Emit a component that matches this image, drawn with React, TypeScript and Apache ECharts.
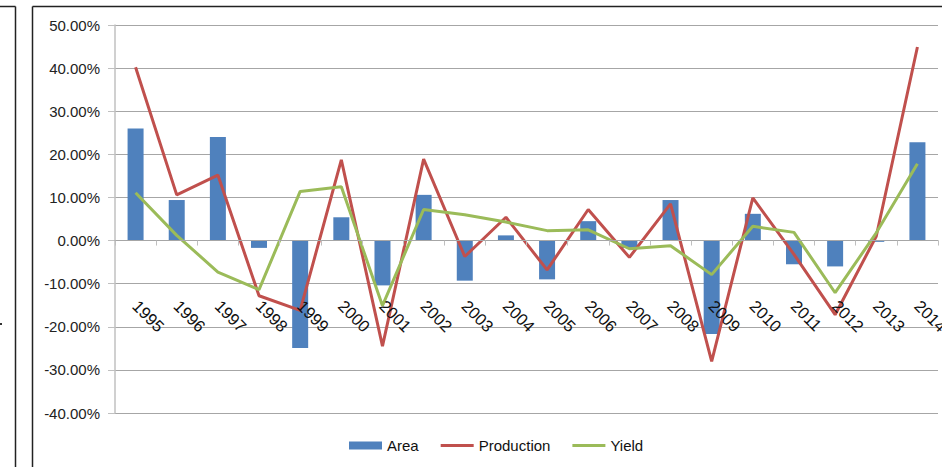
import React, { useEffect, useRef } from "react";
import * as echarts from "echarts";

const years = ["1995", "1996", "1997", "1998", "1999", "2000", "2001", "2002", "2003", "2004", "2005", "2006", "2007", "2008", "2009", "2010", "2011", "2012", "2013", "2014"];
const area = [26.0, 9.4, 24.0, -1.7, -24.9, 5.4, -10.4, 10.6, -9.3, 1.2, -9.0, 4.5, -1.7, 9.4, -21.7, 6.2, -5.5, -6.0, -0.3, 22.8];
const production = [40.2, 10.6, 15.2, -12.8, -16.2, 18.7, -24.5, 18.9, -3.7, 5.4, -6.8, 7.2, -3.9, 8.5, -28.0, 9.9, -3.2, -17.2, 1.0, 44.9];
const yieldValues = [11.1, 1.2, -7.3, -11.4, 11.4, 12.5, -15.1, 7.2, 6.0, 4.3, 2.3, 2.5, -1.9, -1.2, -7.9, 3.3, 1.9, -12.1, 1.8, 17.8];
const yMin = -40;
const yMax = 50;
const yStep = 10;

const FONT = "'Liberation Sans', Arial, sans-serif";
const LINE_ICON = "path://M0,0 L33,0 L33,3 L0,3 Z";

export default function App() {
  const ref = useRef<HTMLDivElement>(null);
  useEffect(() => {
    if (!ref.current) return;
    const chart = echarts.init(ref.current, undefined, { renderer: "svg" });
    const frame = { stroke: "#222", lineWidth: 1.5 };
    chart.setOption({
      animation: false,
      backgroundColor: "#ffffff",
      textStyle: { fontFamily: FONT },
      grid: { left: 115, right: 4, top: 25, bottom: 54, containLabel: false, outerBoundsMode: "none" },
      legend: {
        left: 349,
        top: 438,
        padding: 0,
        itemWidth: 33,
        itemHeight: 8,
        itemGap: 22,
        textStyle: { fontSize: 15, color: "#111", fontFamily: FONT },
        data: [
          { name: "Area", icon: "rect" },
          { name: "Production", icon: LINE_ICON },
          { name: "Yield", icon: LINE_ICON },
        ],
      },
      xAxis: {
        type: "category",
        data: years,
        boundaryGap: true,
        z: 10,
        axisLine: { show: true, onZero: true, lineStyle: { color: "#a6a6a6", width: 1 } },
        axisTick: { show: true, length: 5, alignWithLabel: false, lineStyle: { color: "#bfbfbf" } },
        axisLabel: {
          rotate: -45,
          margin: -110,
          fontSize: 16.5,
          color: "#111",
          fontFamily: FONT,
          interval: 0,
        },
        splitLine: { show: false },
      },
      yAxis: {
        type: "value",
        min: yMin,
        max: yMax,
        interval: yStep,
        axisLine: { show: true, lineStyle: { color: "#c0c0c0", width: 1.5 } },
        axisTick: { show: true, length: 7, lineStyle: { color: "#c0c0c0" } },
        axisLabel: {
          margin: 15,
          fontSize: 15,
          color: "#222",
          fontFamily: FONT,
          formatter: (v: number) => v.toFixed(2) + "%",
        },
        splitLine: { show: true, lineStyle: { color: "#a6a6a6", width: 1 } },
      },
      series: [
        {
          name: "Area",
          type: "bar",
          data: area,
          barWidth: 16,
          itemStyle: { color: "#4f81bd" },
          z: 2,
        },
        {
          name: "Production",
          type: "line",
          data: production,
          symbol: "none",
          showSymbol: false,
          lineStyle: { color: "#c0504d", width: 3 },
          itemStyle: { color: "#c0504d" },
          z: 3,
        },
        {
          name: "Yield",
          type: "line",
          data: yieldValues,
          symbol: "none",
          showSymbol: false,
          lineStyle: { color: "#9bbb59", width: 3 },
          itemStyle: { color: "#9bbb59" },
          z: 4,
        },
      ],
      graphic: [
        { type: "line", shape: { x1: 0, y1: 6.5, x2: 15.5, y2: 6.5 }, style: frame },
        { type: "line", shape: { x1: 15.5, y1: 6.5, x2: 15.5, y2: 467 }, style: frame },
        { type: "line", shape: { x1: 32.5, y1: 6.5, x2: 942, y2: 6.5 }, style: frame },
        { type: "line", shape: { x1: 32.5, y1: 6.5, x2: 32.5, y2: 467 }, style: frame },
        { type: "rect", shape: { x: 0, y: 323, width: 2, height: 2 }, style: { fill: "#333" } },
      ],
    });
    return () => chart.dispose();
  }, []);
  return (
    <div
      ref={ref}
      style={{ position: "fixed", left: 0, top: 0, width: 942, height: 467, background: "#fff" }}
    />
  );
}
